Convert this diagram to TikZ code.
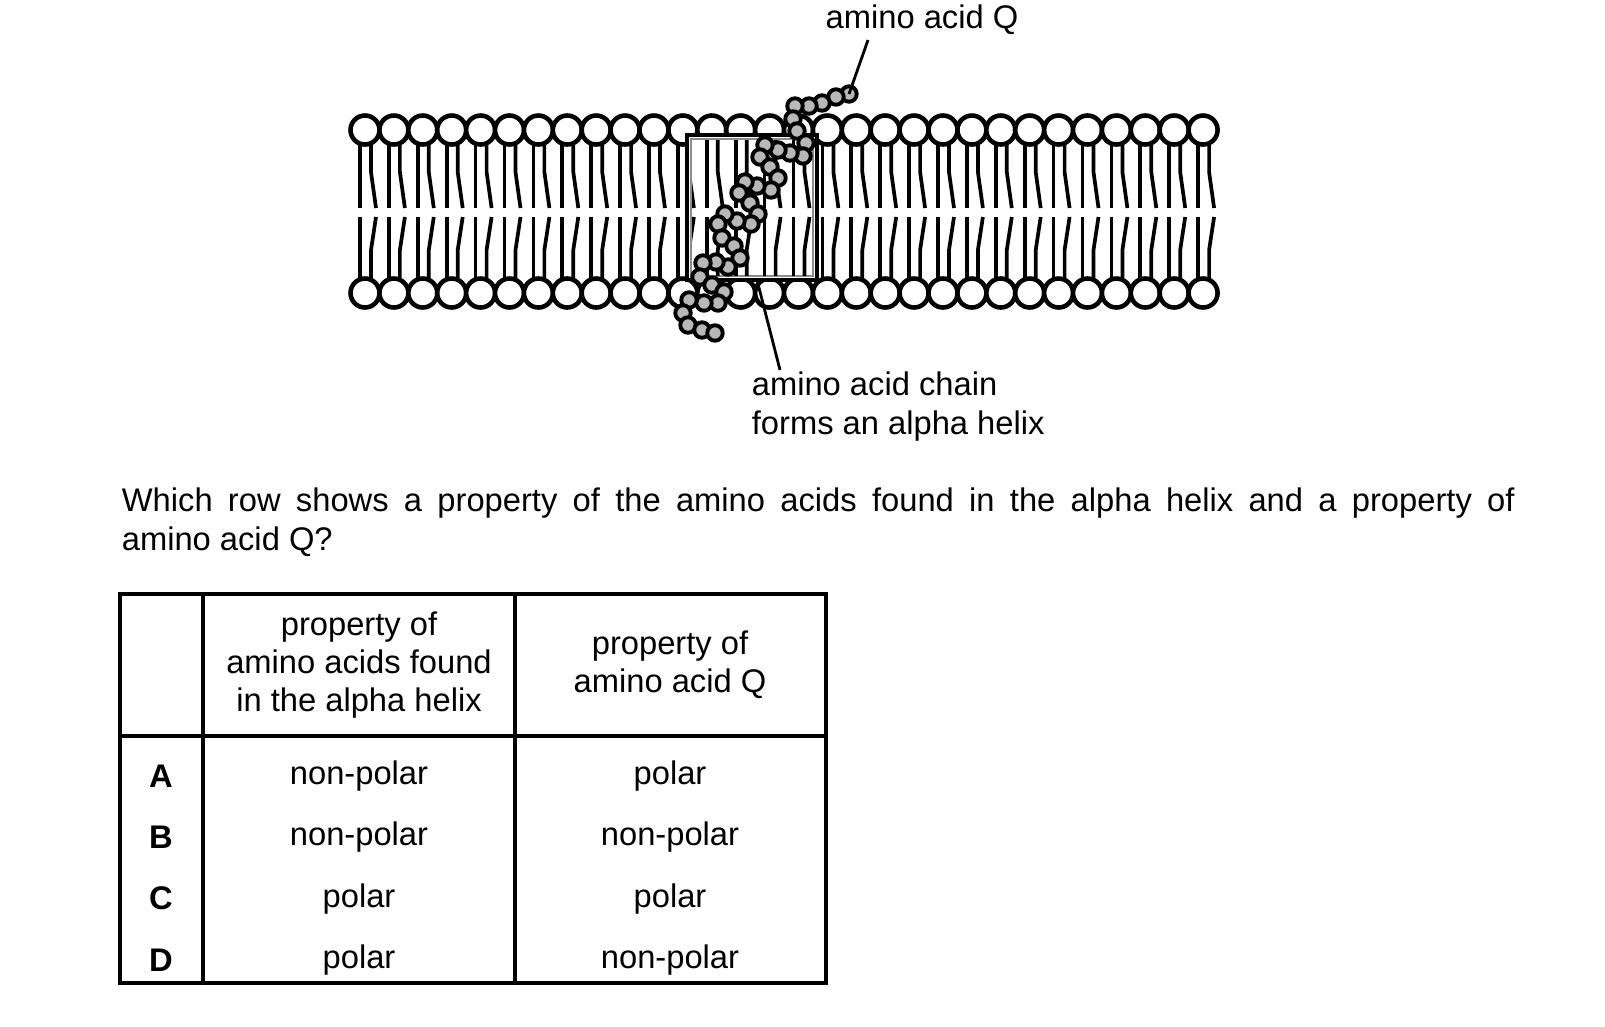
\documentclass[tikz,border=0pt]{standalone}
\usepackage{fontspec}
\setmainfont{Liberation Sans}
\begin{document}
\begin{tikzpicture}[x=0.01cm, y=-0.01cm, line width=1.05pt,
    head/.style={draw, fill=white, line width=1.3pt},
    bead/.style={draw, fill=black!28, line width=1.1pt},
    lbl/.style={font=\fontsize{9.3pt}{11.2pt}\selectfont, inner sep=0pt},
    cell/.style={font=\fontsize{9.3pt}{10.7pt}\selectfont, align=center, inner sep=0pt}]
    \useasboundingbox (0,0) rectangle (1605,1026);

    % Lipid tails
    \foreach \i in {0,...,29} {
      \pgfmathsetmacro{\x}{365+28.9*\i}
      \draw (\x-5,145) -- (\x-5,208);
      \draw (\x+6,145) -- (\x+6,172) -- (\x+11,208);
      \draw (\x-5,217) -- (\x-5,278);
      \draw (\x+11,217) -- (\x+6,250) -- (\x+6,278);
    }
    % Lipid heads
    \foreach \i in {0,...,29} {
      \pgfmathsetmacro{\x}{365+28.9*\i}
      \draw[head] (\x,130) circle (14.5);
      \draw[head] (\x,293) circle (14.5);
    }

    % Box around the helix
    \draw[fill=white, line width=1.3pt] (687,135) rectangle (817,280);
    \draw[black!45, line width=0.8pt] (691,139) rectangle (813,276);
    \begin{scope}
      \clip (692,140) rectangle (812,275);
      \foreach \i in {11,...,15} {
        \pgfmathsetmacro{\x}{365+28.9*\i}
        \draw (\x-5,135) -- (\x-5,208);
        \draw (\x+6,135) -- (\x+6,172) -- (\x+11,208);
        \draw (\x-5,217) -- (\x-5,280);
        \draw (\x+11,217) -- (\x+6,250) -- (\x+6,280);
      }
    \end{scope}

    % Amino acid chain
    \foreach \p [count=\n] in {(849,94),(836,97),(822,103),(809,106),(795,106),
        (793,119),(797,131),(806,143),(803,156),(790,153),(778,150),(765,145),
        (760,157),(770,167),(778,178),(771,190),(757,186),(745,182),(739,193),
        (750,203),(758,214),(751,224),(737,221),(725,214),(718,224),(722,238),
        (734,246),(740,258),(728,267),(716,262),(703,263),(700,277),(712,285),
        (724,292),(718,303),(704,303),(689,300),(683,313),(688,325),(702,330),
        (715,333)}
      \node[bead, circle, minimum size=0.155cm, inner sep=0pt] (b\n) at \p {};

    % Labels
    \node[lbl] (q) at (922,20) {amino acid Q};
    \coordinate (qs) at (868,40);
    \draw[line width=0.8pt] (qs) -- (b1.center);
    \node[lbl, align=left, anchor=north west] (chain) at (750,370)
      {amino acid chain\\forms an alpha helix};
    \coordinate (boxb) at (757,280);
    \draw[line width=0.8pt] (boxb) -- ([xshift=0.3cm]chain.north west);

    % Question
    \node[lbl, anchor=north west, text width=13.92cm, align=justify] (ques) at (120,486)
      {\fontsize{9.3pt}{11pt}\selectfont Which row shows a property of the amino acids found in the alpha helix and a property of\linebreak amino acid Q?};

    % Table
    \draw[line width=1pt] (120,594) rectangle (826,983);
    \draw[line width=1pt] (203,594) -- (203,983);
    \draw[line width=1pt] (515,594) -- (515,983);
    \draw[line width=1pt] (120,736) -- (826,736);
    \node[cell] (h1) at (359,665) {property of\\amino acids found\\in the alpha helix};
    \node[cell] (h2) at (670,665) {property of\\amino acid Q};
    \foreach \r/\a/\b [count=\k] in {A/non-polar/polar, B/non-polar/non-polar,
        C/polar/polar, D/polar/non-polar} {
      \pgfmathsetmacro{\y}{776+61.3*(\k-1)}
      \node[cell, font=\fontsize{9.3pt}{11pt}\selectfont\bfseries] (r\k) at (161,\y) {\r};
      \node[cell] (c\k) at (359,\y) {\a};
      \node[cell] (d\k) at (670,\y) {\b};
    }
\end{tikzpicture}
\end{document}
